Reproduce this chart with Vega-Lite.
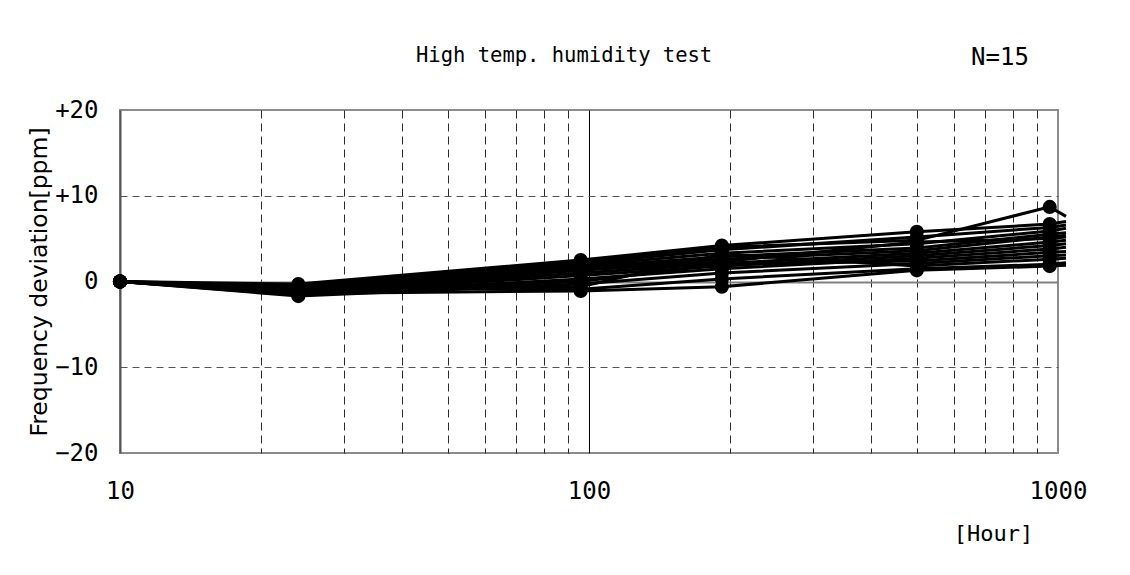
{
  "$schema": "https://vega.github.io/schema/vega-lite/v6.json",
  "width": 938,
  "height": 343,
  "autosize": {"type": "none"},
  "padding": {"left": 120, "top": 110, "right": 72, "bottom": 122},
  "background": "white",
  "config": {
    "view": {"stroke": "#8c8c8c", "strokeWidth": 2},
    "axis": {"labelColor": "black", "titleColor": "black", "titleFontWeight": "normal"}
  },
  "data": {
    "values": [
      {"s": 1, "h": 10, "v": 0}, {"s": 1, "h": 24, "v": -0.3}, {"s": 1, "h": 96, "v": 2.5}, {"s": 1, "h": 192, "v": 4.2}, {"s": 1, "h": 500, "v": 5.8}, {"s": 1, "h": 960, "v": 6.7}, {"s": 1, "h": 1040, "v": 7.0},
      {"s": 2, "h": 10, "v": 0}, {"s": 2, "h": 24, "v": -0.5}, {"s": 2, "h": 96, "v": 2.3}, {"s": 2, "h": 192, "v": 4.0}, {"s": 2, "h": 500, "v": 4.8}, {"s": 2, "h": 960, "v": 8.7}, {"s": 2, "h": 1040, "v": 7.6},
      {"s": 3, "h": 10, "v": 0}, {"s": 3, "h": 24, "v": -0.7}, {"s": 3, "h": 96, "v": 2.1}, {"s": 3, "h": 192, "v": 3.7}, {"s": 3, "h": 500, "v": 5.2}, {"s": 3, "h": 960, "v": 6.3}, {"s": 3, "h": 1040, "v": 6.6},
      {"s": 4, "h": 10, "v": 0}, {"s": 4, "h": 24, "v": -0.9}, {"s": 4, "h": 96, "v": 1.9}, {"s": 4, "h": 192, "v": 3.3}, {"s": 4, "h": 500, "v": 4.4}, {"s": 4, "h": 960, "v": 5.9}, {"s": 4, "h": 1040, "v": 6.2},
      {"s": 5, "h": 10, "v": 0}, {"s": 5, "h": 24, "v": -1.0}, {"s": 5, "h": 96, "v": 1.7}, {"s": 5, "h": 192, "v": 2.9}, {"s": 5, "h": 500, "v": 3.9}, {"s": 5, "h": 960, "v": 5.5}, {"s": 5, "h": 1040, "v": 5.7},
      {"s": 6, "h": 10, "v": 0}, {"s": 6, "h": 24, "v": -1.1}, {"s": 6, "h": 96, "v": 1.5}, {"s": 6, "h": 192, "v": 2.6}, {"s": 6, "h": 500, "v": 3.6}, {"s": 6, "h": 960, "v": 5.2}, {"s": 6, "h": 1040, "v": 5.4},
      {"s": 7, "h": 10, "v": 0}, {"s": 7, "h": 24, "v": -1.2}, {"s": 7, "h": 96, "v": 1.3}, {"s": 7, "h": 192, "v": 2.3}, {"s": 7, "h": 500, "v": 4.6}, {"s": 7, "h": 960, "v": 5.0}, {"s": 7, "h": 1040, "v": 5.2},
      {"s": 8, "h": 10, "v": 0}, {"s": 8, "h": 24, "v": -1.3}, {"s": 8, "h": 96, "v": 1.0}, {"s": 8, "h": 192, "v": 2.1}, {"s": 8, "h": 500, "v": 3.3}, {"s": 8, "h": 960, "v": 4.6}, {"s": 8, "h": 1040, "v": 4.8},
      {"s": 9, "h": 10, "v": 0}, {"s": 9, "h": 24, "v": -1.4}, {"s": 9, "h": 96, "v": 0.7}, {"s": 9, "h": 192, "v": 1.8}, {"s": 9, "h": 500, "v": 3.0}, {"s": 9, "h": 960, "v": 4.2}, {"s": 9, "h": 1040, "v": 4.4},
      {"s": 10, "h": 10, "v": 0}, {"s": 10, "h": 24, "v": -1.5}, {"s": 10, "h": 96, "v": 0.3}, {"s": 10, "h": 192, "v": 1.5}, {"s": 10, "h": 500, "v": 2.7}, {"s": 10, "h": 960, "v": 3.8}, {"s": 10, "h": 1040, "v": 4.0},
      {"s": 11, "h": 10, "v": 0}, {"s": 11, "h": 24, "v": -1.6}, {"s": 11, "h": 96, "v": 0.0}, {"s": 11, "h": 192, "v": 2.0}, {"s": 11, "h": 500, "v": 2.4}, {"s": 11, "h": 960, "v": 3.4}, {"s": 11, "h": 1040, "v": 3.5},
      {"s": 12, "h": 10, "v": 0}, {"s": 12, "h": 24, "v": -1.7}, {"s": 12, "h": 96, "v": -0.3}, {"s": 12, "h": 192, "v": 1.0}, {"s": 12, "h": 500, "v": 2.1}, {"s": 12, "h": 960, "v": 3.0}, {"s": 12, "h": 1040, "v": 3.1},
      {"s": 13, "h": 10, "v": 0}, {"s": 13, "h": 24, "v": -1.1}, {"s": 13, "h": 96, "v": -0.6}, {"s": 13, "h": 192, "v": 3.2}, {"s": 13, "h": 500, "v": 1.8}, {"s": 13, "h": 960, "v": 2.6}, {"s": 13, "h": 1040, "v": 2.7},
      {"s": 14, "h": 10, "v": 0}, {"s": 14, "h": 24, "v": -0.8}, {"s": 14, "h": 96, "v": -0.9}, {"s": 14, "h": 192, "v": 0.3}, {"s": 14, "h": 500, "v": 1.5}, {"s": 14, "h": 960, "v": 2.0}, {"s": 14, "h": 1040, "v": 2.2},
      {"s": 15, "h": 10, "v": 0}, {"s": 15, "h": 24, "v": -1.4}, {"s": 15, "h": 96, "v": -1.1}, {"s": 15, "h": 192, "v": -0.6}, {"s": 15, "h": 500, "v": 1.3}, {"s": 15, "h": 960, "v": 1.8}, {"s": 15, "h": 1040, "v": 1.9}
    ]
  },
  "encoding": {
    "x": {
      "field": "h",
      "type": "quantitative",
      "scale": {"type": "log", "domain": [10, 1000], "nice": false},
      "axis": {
        "values": [10, 20, 30, 40, 50, 60, 70, 80, 90, 100, 200, 300, 400, 500, 600, 700, 800, 900, 1000],
        "labelExpr": "datum.value == 10 || datum.value == 100 || datum.value == 1000 ? format(datum.value, 'd') : ''",
        "labelFlush": false,
        "labelOverlap": false,
        "ticks": false,
        "tickSize": 0,
        "domain": false,
        "labelPadding": 38,
        "labelBaseline": "middle",
        "labelFont": "DejaVu Sans Mono",
        "labelFontSize": 24,
        "grid": true,
        "gridWidth": 1,
        "gridColor": {"condition": {"test": "datum.value == 100", "value": "black"}, "value": "#2a2a2a"},
        "gridDash": {"condition": {"test": "datum.value == 100", "value": []}, "value": [8, 5]},
        "gridOpacity": {"condition": {"test": "datum.value == 10 || datum.value == 1000", "value": 0}, "value": 1},
        "title": "[Hour]",
        "titleFont": "DejaVu Sans Mono",
        "titleFontSize": 22,
        "titleX": 873,
        "titleY": 80,
        "titleAlign": "center",
        "titleBaseline": "middle"
      }
    },
    "y": {
      "field": "v",
      "type": "quantitative",
      "scale": {"domain": [-20, 20], "nice": false},
      "axis": {
        "values": [-20, -10, 0, 10, 20],
        "labelExpr": "datum.value > 0 ? '+' + datum.value : (datum.value < 0 ? '\u2212' + abs(datum.value) : '0')",
        "ticks": false,
        "tickSize": 0,
        "domain": true,
        "domainColor": "#555555",
        "domainWidth": 2,
        "labelPadding": 22,
        "labelBaseline": "middle",
        "labelAlign": "right",
        "labelFont": "DejaVu Sans Mono",
        "labelFontSize": 24,
        "grid": true,
        "gridColor": {"condition": {"test": "datum.value == 0", "value": "#808080"}, "value": "#555555"},
        "gridWidth": {"condition": {"test": "datum.value == 0", "value": 2}, "value": 1},
        "gridDash": {"condition": {"test": "datum.value == 0", "value": []}, "value": [7, 5]},
        "gridOpacity": {"condition": {"test": "abs(datum.value) == 20", "value": 0}, "value": 1},
        "title": "Frequency deviation[ppm]",
        "titleFont": "DejaVu Sans",
        "titleFontSize": 23.5,
        "titleX": -81,
        "titleY": 171.5,
        "titleAngle": -90,
        "titleAlign": "center",
        "titleBaseline": "middle"
      }
    }
  },
  "layer": [
    {
      "mark": {"type": "line", "color": "black", "strokeWidth": 3, "clip": false},
      "encoding": {"detail": {"field": "s", "type": "nominal"}}
    },
    {
      "transform": [{"filter": "datum.h <= 960"}],
      "mark": {"type": "circle", "color": "black", "opacity": 1, "size": 200}
    },
    {
      "data": {
        "values": [
          {"label": "High temp. humidity test", "h": 88.5, "v": 26.3, "fs": "title"},
          {"label": "N=15", "h": 752, "v": 26.1, "fs": "count"}
        ]
      },
      "mark": {"type": "text", "font": "DejaVu Sans Mono", "color": "black", "align": "center", "baseline": "middle"},
      "encoding": {
        "text": {"field": "label", "type": "nominal"},
        "size": {
          "field": "fs",
          "type": "nominal",
          "scale": {"domain": ["title", "count"], "range": [20.5, 24]},
          "legend": null
        }
      }
    }
  ]
}
